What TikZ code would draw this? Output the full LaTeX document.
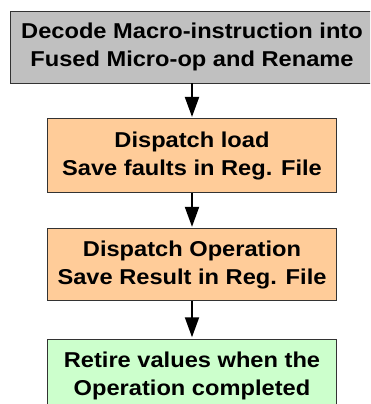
\documentclass[tikz,border=0pt]{standalone}
\usepackage{fontspec}
\setmainfont[FakeStretch=1.1]{Liberation Sans}
\usepackage{xcolor}
\usetikzlibrary{positioning}
\usetikzlibrary{arrows.meta}

\definecolor{decodegray}{HTML}{C0C0C0}
\definecolor{dispatchorange}{HTML}{FFCC99}
\definecolor{retiregreen}{HTML}{CCFFCC}

\begin{document}
\begin{tikzpicture}[
  x=1pt, y=1pt,
  stagebox/.style={draw=black!80, line width=0.9pt, align=center,
    minimum width=289pt, minimum height=74pt, inner sep=0pt,
    font=\fontsize{21.5}{28}\selectfont\bfseries},
  flow/.style={line width=2pt, shorten >=1.5pt, -{Triangle[length=20pt, width=14pt]}}
]

\useasboundingbox (0,0) rectangle (370,-404);
\clip (0,0) rectangle (370,-404);

\node (decode) [stagebox, fill=decodegray, minimum width=364pt, minimum height=72pt]
  at (192,-47) {Decode Macro-instruction into\\Fused Micro-op and Rename};

\node (load) [stagebox, fill=dispatchorange, below=35pt of decode]
  {Dispatch load\\Save faults in Reg. File};

\node (operation) [stagebox, fill=dispatchorange, minimum height=72pt, below=35pt of load]
  {Dispatch Operation\\Save Result in Reg. File};

\node (retire) [stagebox, fill=retiregreen, below=37.5pt of operation]
  {Retire values when the\\Operation completed};

\draw [flow] (decode) -- (load);
\draw [flow] (load) -- (operation);
\draw [flow] (operation) -- (retire);

\end{tikzpicture}
\end{document}
